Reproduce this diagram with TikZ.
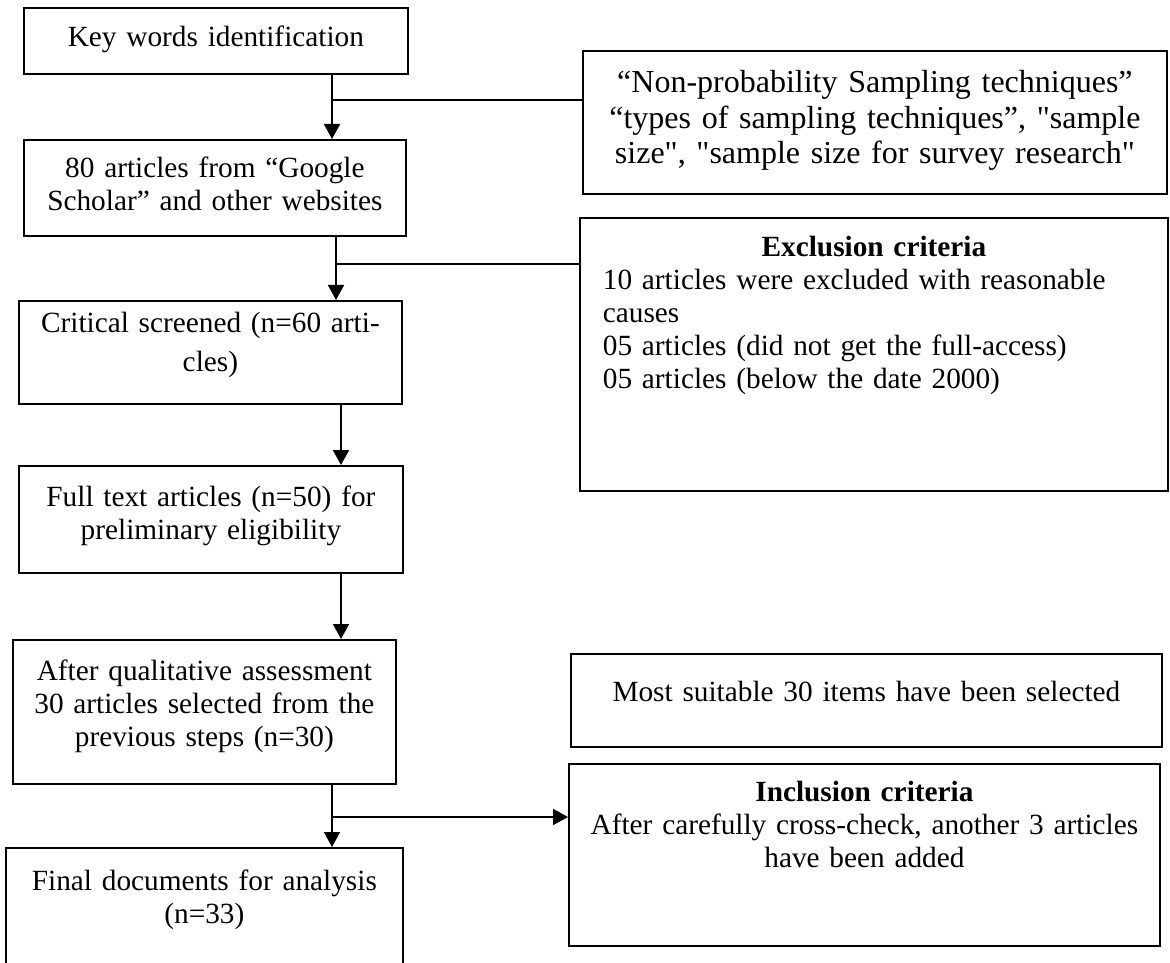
\documentclass[tikz,border=0pt]{standalone}
\usepackage{fontspec}
\setmainfont{Liberation Serif}
\usetikzlibrary{arrows.meta}

\begin{document}
\begin{tikzpicture}[
        x=0.5pt, y=-0.5pt,
        font=\fontsize{14.65pt}{16.5pt}\selectfont,
        box/.style={rectangle, draw=black, line width=0.9pt, anchor=north west, align=center, inner xsep=4pt, inner ysep=0pt},
        arrow/.style={-{Triangle[length=7.5pt, width=8pt]}, line width=0.9pt},
        link/.style={line width=0.9pt}
    ]
    \useasboundingbox (0,0) rectangle (1170,962);

    % Left column
    \node (kw) [box, text width=184pt, text height=19.5pt, text depth=13.5pt] at (23,7) {Key words identification};
    \node (gs) [box, text width=183pt, text height=19pt, text depth=29pt] at (23,139) {80 articles from “Google\\Scholar” and other websites};
    \node (cs) [box, text width=183.5pt, text height=16pt, text depth=35.5pt] at (18,300) {Critical screened (n=60 arti-\\[3pt]cles)};
    \node (ft) [box, text width=184pt, text height=20.5pt, text depth=33pt] at (18,465) {Full text articles (n=50) for\\preliminary eligibility};
    \node (qa) [box, text width=183.5pt, text height=20.5pt, text depth=51.5pt] at (12,639) {After qualitative assessment\\30 articles selected from the\\previous steps (n=30)};
    \node (fd) [box, text width=190.5pt, text height=21.5pt, text depth=40pt] at (5,847) {Final documents for analysis\\(n=33)};

    % Right column
    \node (kwlist) [box, font=\fontsize{16pt}{17.75pt}\selectfont, text width=284pt, text height=21pt, text depth=50.5pt] at (582,50) {“Non-probability Sampling techniques”\\“types of sampling techniques”, \textquotedbl sample\\size\textquotedbl, \textquotedbl sample size for survey research\textquotedbl};
    \node (excl) [box, align=left, inner xsep=11.5pt, text width=271pt, text height=19.5pt, text depth=117pt] at (579,217) {{\centering\textbf{Exclusion criteria}\par}10 articles were excluded with reasonable\\causes\\05 articles (did not get the full-access)\\05 articles (below the date 2000)};
    \node (suit) [box, text width=287.5pt, text height=24pt, text depth=22.5pt] at (570,653) {Most suitable 30 items have been selected};
    \node (incl) [box, text width=287.5pt, text height=19pt, text depth=72pt] at (568,763) {\textbf{Inclusion criteria}\\After carefully cross-check, another 3 articles\\have been added};

    % Junctions
    \coordinate (j1) at (332,100);
    \coordinate (j2) at (336,264);
    \coordinate (c3) at (341,440);
    \coordinate (c4) at (341,610);
    \coordinate (j5) at (332,817);

    % Arrows
    \draw [arrow] (kw.south -| j1) -- (gs.north -| j1);
    \draw [link] (j1) -- (j1 -| kwlist.west);
    \draw [arrow] (gs.south -| j2) -- (cs.north -| j2);
    \draw [link] (j2) -- (j2 -| excl.west);
    \draw [arrow] (cs.south -| c3) -- (ft.north -| c3);
    \draw [arrow] (ft.south -| c4) -- (qa.north -| c4);
    \draw [arrow] (qa.south -| j5) -- (fd.north -| j5);
    \draw [arrow] (j5) -- (j5 -| incl.west);
\end{tikzpicture}
\end{document}
